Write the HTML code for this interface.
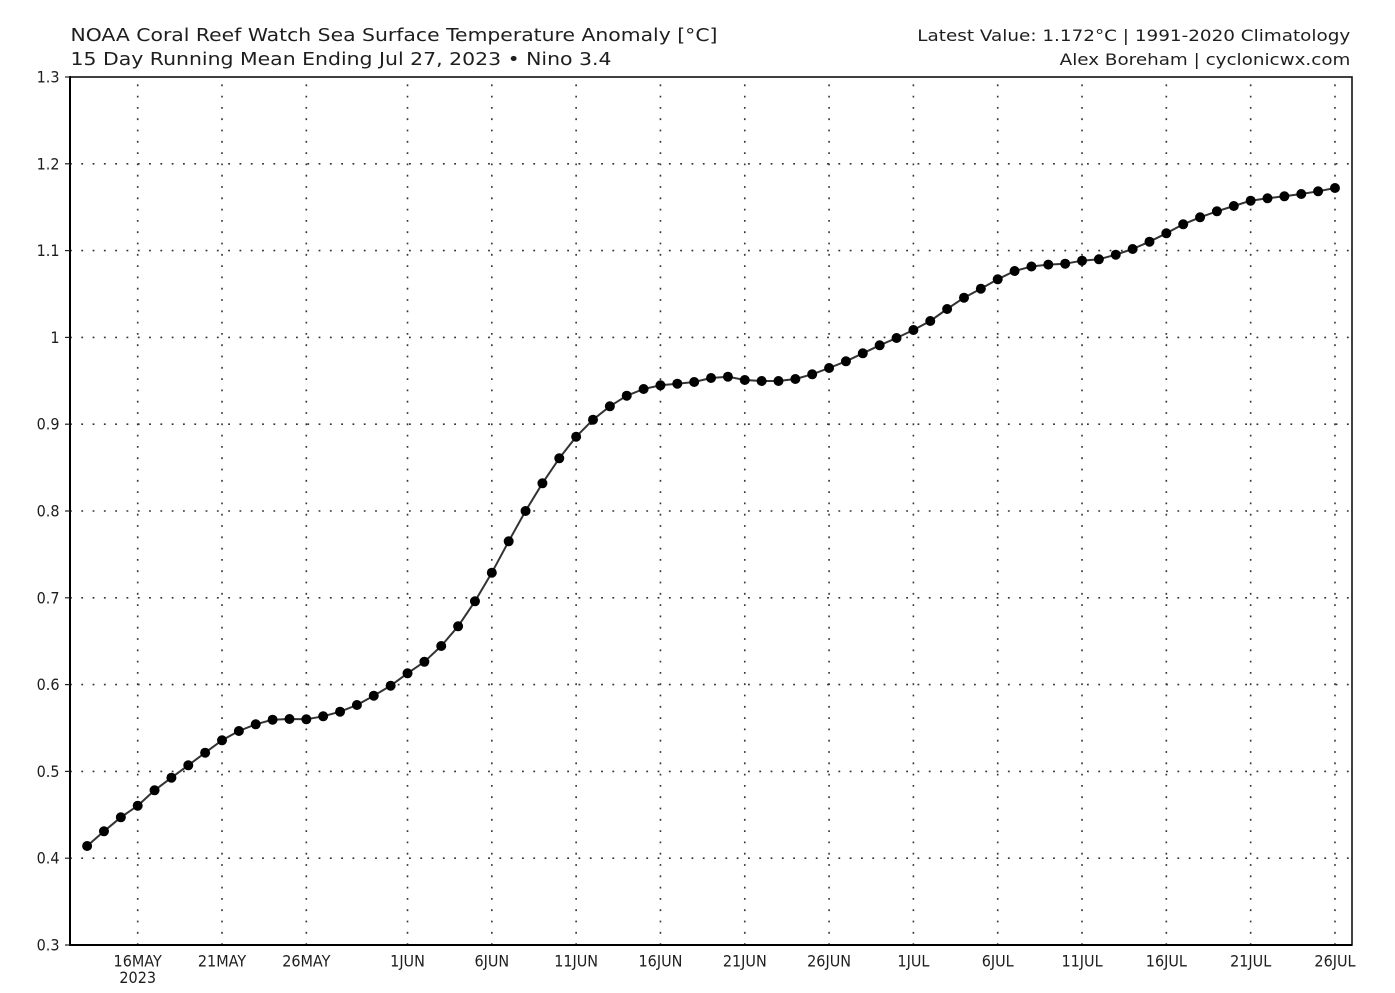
<!DOCTYPE html>
<html>
<head>
<meta charset="utf-8">
<style>
html,body{margin:0;padding:0;background:#fff;}
svg{display:block;}
text{font-family:"DejaVu Sans","Liberation Sans",sans-serif;fill:#1e1e1e;}
.lab{font-size:16px;}
</style>
</head>
<body>
<svg width="1395" height="993" viewBox="0 0 1395 993" xmlns="http://www.w3.org/2000/svg">
<rect width="1395" height="993" fill="#fff"/>

<!-- Titles -->
<text x="70.5" y="41" font-size="17.5" textLength="647" lengthAdjust="spacingAndGlyphs">NOAA Coral Reef Watch Sea Surface Temperature Anomaly [°C]</text>
<text x="70.5" y="65" font-size="17.5" textLength="541" lengthAdjust="spacingAndGlyphs">15 Day Running Mean Ending Jul 27, 2023 • Nino 3.4</text>
<text x="917.3" y="41" font-size="16" textLength="433" lengthAdjust="spacingAndGlyphs">Latest Value: 1.172°C | 1991-2020 Climatology</text>
<text x="1059.7" y="65" font-size="16" textLength="290.7" lengthAdjust="spacingAndGlyphs">Alex Boreham | cyclonicwx.com</text>

<!-- Grid -->
<g stroke="#333" stroke-width="1.6" stroke-dasharray="1.8 9.5" fill="none">
<line x1="70" y1="163.8" x2="1352" y2="163.8"/>
<line x1="70" y1="250.6" x2="1352" y2="250.6"/>
<line x1="70" y1="337.4" x2="1352" y2="337.4"/>
<line x1="70" y1="424.2" x2="1352" y2="424.2"/>
<line x1="70" y1="511" x2="1352" y2="511"/>
<line x1="70" y1="597.8" x2="1352" y2="597.8"/>
<line x1="70" y1="684.6" x2="1352" y2="684.6"/>
<line x1="70" y1="771.4" x2="1352" y2="771.4"/>
<line x1="70" y1="858.2" x2="1352" y2="858.2"/>
<line x1="137.7" y1="945" x2="137.7" y2="77"/>
<line x1="222.02" y1="945" x2="222.02" y2="77"/>
<line x1="306.33" y1="945" x2="306.33" y2="77"/>
<line x1="407.51" y1="945" x2="407.51" y2="77"/>
<line x1="491.82" y1="945" x2="491.82" y2="77"/>
<line x1="576.14" y1="945" x2="576.14" y2="77"/>
<line x1="660.45" y1="945" x2="660.45" y2="77"/>
<line x1="744.77" y1="945" x2="744.77" y2="77"/>
<line x1="829.08" y1="945" x2="829.08" y2="77"/>
<line x1="913.4" y1="945" x2="913.4" y2="77"/>
<line x1="997.71" y1="945" x2="997.71" y2="77"/>
<line x1="1082.03" y1="945" x2="1082.03" y2="77"/>
<line x1="1166.34" y1="945" x2="1166.34" y2="77"/>
<line x1="1250.66" y1="945" x2="1250.66" y2="77"/>
<line x1="1334.97" y1="945" x2="1334.97" y2="77"/>
</g>

<!-- Frame -->
<rect x="70" y="77" width="1282" height="868" fill="none" stroke="#111" stroke-width="1.6"/>
<line x1="70" y1="76" x2="70" y2="946" stroke="#000" stroke-width="2"/>
<line x1="69" y1="945" x2="1352" y2="945" stroke="#000" stroke-width="2"/>

<!-- Y ticks -->
<g stroke="#222" stroke-width="1.2">
<line x1="65" y1="77" x2="70" y2="77"/>
<line x1="65" y1="163.8" x2="70" y2="163.8"/>
<line x1="65" y1="250.6" x2="70" y2="250.6"/>
<line x1="65" y1="337.4" x2="70" y2="337.4"/>
<line x1="65" y1="424.2" x2="70" y2="424.2"/>
<line x1="65" y1="511" x2="70" y2="511"/>
<line x1="65" y1="597.8" x2="70" y2="597.8"/>
<line x1="65" y1="684.6" x2="70" y2="684.6"/>
<line x1="65" y1="771.4" x2="70" y2="771.4"/>
<line x1="65" y1="858.2" x2="70" y2="858.2"/>
<line x1="65" y1="945" x2="70" y2="945"/>
</g>

<!-- Y labels -->
<g class="lab" text-anchor="end">
<g transform="translate(59.5,82.5) scale(0.9,1)"><text class="lab">1.3</text></g>
<g transform="translate(59.5,169.3) scale(0.9,1)"><text class="lab">1.2</text></g>
<g transform="translate(59.5,256.1) scale(0.9,1)"><text class="lab">1.1</text></g>
<g transform="translate(59.5,342.9) scale(0.9,1)"><text class="lab">1</text></g>
<g transform="translate(59.5,429.7) scale(0.9,1)"><text class="lab">0.9</text></g>
<g transform="translate(59.5,516.5) scale(0.9,1)"><text class="lab">0.8</text></g>
<g transform="translate(59.5,603.3) scale(0.9,1)"><text class="lab">0.7</text></g>
<g transform="translate(59.5,690.1) scale(0.9,1)"><text class="lab">0.6</text></g>
<g transform="translate(59.5,776.9) scale(0.9,1)"><text class="lab">0.5</text></g>
<g transform="translate(59.5,863.7) scale(0.9,1)"><text class="lab">0.4</text></g>
<g transform="translate(59.5,950.5) scale(0.9,1)"><text class="lab">0.3</text></g>
</g>

<!-- X labels -->
<g text-anchor="middle">
<g transform="translate(137.7,966.5) scale(0.9,1)"><text class="lab">16MAY</text></g>
<g transform="translate(137.7,983) scale(0.9,1)"><text class="lab">2023</text></g>
<g transform="translate(222.02,966.5) scale(0.9,1)"><text class="lab">21MAY</text></g>
<g transform="translate(306.33,966.5) scale(0.9,1)"><text class="lab">26MAY</text></g>
<g transform="translate(407.51,966.5) scale(0.9,1)"><text class="lab">1JUN</text></g>
<g transform="translate(491.82,966.5) scale(0.9,1)"><text class="lab">6JUN</text></g>
<g transform="translate(576.14,966.5) scale(0.9,1)"><text class="lab">11JUN</text></g>
<g transform="translate(660.45,966.5) scale(0.9,1)"><text class="lab">16JUN</text></g>
<g transform="translate(744.77,966.5) scale(0.9,1)"><text class="lab">21JUN</text></g>
<g transform="translate(829.08,966.5) scale(0.9,1)"><text class="lab">26JUN</text></g>
<g transform="translate(913.4,966.5) scale(0.9,1)"><text class="lab">1JUL</text></g>
<g transform="translate(997.71,966.5) scale(0.9,1)"><text class="lab">6JUL</text></g>
<g transform="translate(1082.03,966.5) scale(0.9,1)"><text class="lab">11JUL</text></g>
<g transform="translate(1166.34,966.5) scale(0.9,1)"><text class="lab">16JUL</text></g>
<g transform="translate(1250.66,966.5) scale(0.9,1)"><text class="lab">21JUL</text></g>
<g transform="translate(1334.97,966.5) scale(0.9,1)"><text class="lab">26JUL</text></g>
</g>

<!-- Series line -->
<polyline fill="none" stroke="#333" stroke-width="2" stroke-linejoin="round" points="
87.11,846 103.97,831.3 120.84,817.3 137.7,805.7 154.56,790.3 171.43,777.7 188.29,765.3 205.15,752.7 222.02,740.3 238.88,731
255.74,724.3 272.6,719.7 289.47,719 306.33,719.3 323.19,716.3 340.06,711.7 356.92,705 373.78,695.7 390.65,685.7 407.51,673.3
424.37,661.8 441.23,646 458.1,626.3 474.96,601.3 491.82,572.7 508.69,541.3 525.55,511 542.41,483.3 559.28,458.3 576.14,436.7
593,419.7 609.86,406.3 626.73,395.7 643.59,389 660.45,385.3 677.32,383.7 694.18,382 711.04,378 727.91,376.7 744.77,380
761.63,381 778.49,381 795.36,379 812.22,374.3 829.08,368 845.95,361.3 862.81,353.3 879.67,345.3 896.54,338 913.4,330
930.26,321 947.12,309 963.99,297.7 980.85,288.7 997.71,279.3 1014.58,271 1031.44,266.5 1048.3,264.6 1065.17,263.7 1082.03,260.7
1098.89,259.3 1115.75,254.7 1132.62,249 1149.48,241.7 1166.34,233.3 1183.21,224.3 1200.07,217.3 1216.93,211.3 1233.8,206 1250.66,200.7
1267.52,198.3 1284.38,196.3 1301.25,194 1318.11,191.3 1334.97,188"/>

<!-- Markers -->
<g fill="#000">
<circle cx="87.11" cy="846" r="5"/><circle cx="103.97" cy="831.3" r="5"/><circle cx="120.84" cy="817.3" r="5"/><circle cx="137.7" cy="805.7" r="5"/><circle cx="154.56" cy="790.3" r="5"/>
<circle cx="171.43" cy="777.7" r="5"/><circle cx="188.29" cy="765.3" r="5"/><circle cx="205.15" cy="752.7" r="5"/><circle cx="222.02" cy="740.3" r="5"/><circle cx="238.88" cy="731" r="5"/>
<circle cx="255.74" cy="724.3" r="5"/><circle cx="272.6" cy="719.7" r="5"/><circle cx="289.47" cy="719" r="5"/><circle cx="306.33" cy="719.3" r="5"/><circle cx="323.19" cy="716.3" r="5"/>
<circle cx="340.06" cy="711.7" r="5"/><circle cx="356.92" cy="705" r="5"/><circle cx="373.78" cy="695.7" r="5"/><circle cx="390.65" cy="685.7" r="5"/><circle cx="407.51" cy="673.3" r="5"/>
<circle cx="424.37" cy="661.8" r="5"/><circle cx="441.23" cy="646" r="5"/><circle cx="458.1" cy="626.3" r="5"/><circle cx="474.96" cy="601.3" r="5"/><circle cx="491.82" cy="572.7" r="5"/>
<circle cx="508.69" cy="541.3" r="5"/><circle cx="525.55" cy="511" r="5"/><circle cx="542.41" cy="483.3" r="5"/><circle cx="559.28" cy="458.3" r="5"/><circle cx="576.14" cy="436.7" r="5"/>
<circle cx="593" cy="419.7" r="5"/><circle cx="609.86" cy="406.3" r="5"/><circle cx="626.73" cy="395.7" r="5"/><circle cx="643.59" cy="389" r="5"/><circle cx="660.45" cy="385.3" r="5"/>
<circle cx="677.32" cy="383.7" r="5"/><circle cx="694.18" cy="382" r="5"/><circle cx="711.04" cy="378" r="5"/><circle cx="727.91" cy="376.7" r="5"/><circle cx="744.77" cy="380" r="5"/>
<circle cx="761.63" cy="381" r="5"/><circle cx="778.49" cy="381" r="5"/><circle cx="795.36" cy="379" r="5"/><circle cx="812.22" cy="374.3" r="5"/><circle cx="829.08" cy="368" r="5"/>
<circle cx="845.95" cy="361.3" r="5"/><circle cx="862.81" cy="353.3" r="5"/><circle cx="879.67" cy="345.3" r="5"/><circle cx="896.54" cy="338" r="5"/><circle cx="913.4" cy="330" r="5"/>
<circle cx="930.26" cy="321" r="5"/><circle cx="947.12" cy="309" r="5"/><circle cx="963.99" cy="297.7" r="5"/><circle cx="980.85" cy="288.7" r="5"/><circle cx="997.71" cy="279.3" r="5"/>
<circle cx="1014.58" cy="271" r="5"/><circle cx="1031.44" cy="266.5" r="5"/><circle cx="1048.3" cy="264.6" r="5"/><circle cx="1065.17" cy="263.7" r="5"/><circle cx="1082.03" cy="260.7" r="5"/>
<circle cx="1098.89" cy="259.3" r="5"/><circle cx="1115.75" cy="254.7" r="5"/><circle cx="1132.62" cy="249" r="5"/><circle cx="1149.48" cy="241.7" r="5"/><circle cx="1166.34" cy="233.3" r="5"/>
<circle cx="1183.21" cy="224.3" r="5"/><circle cx="1200.07" cy="217.3" r="5"/><circle cx="1216.93" cy="211.3" r="5"/><circle cx="1233.8" cy="206" r="5"/><circle cx="1250.66" cy="200.7" r="5"/>
<circle cx="1267.52" cy="198.3" r="5"/><circle cx="1284.38" cy="196.3" r="5"/><circle cx="1301.25" cy="194" r="5"/><circle cx="1318.11" cy="191.3" r="5"/><circle cx="1334.97" cy="188" r="5"/>
</g>
</svg>
</body>
</html>
